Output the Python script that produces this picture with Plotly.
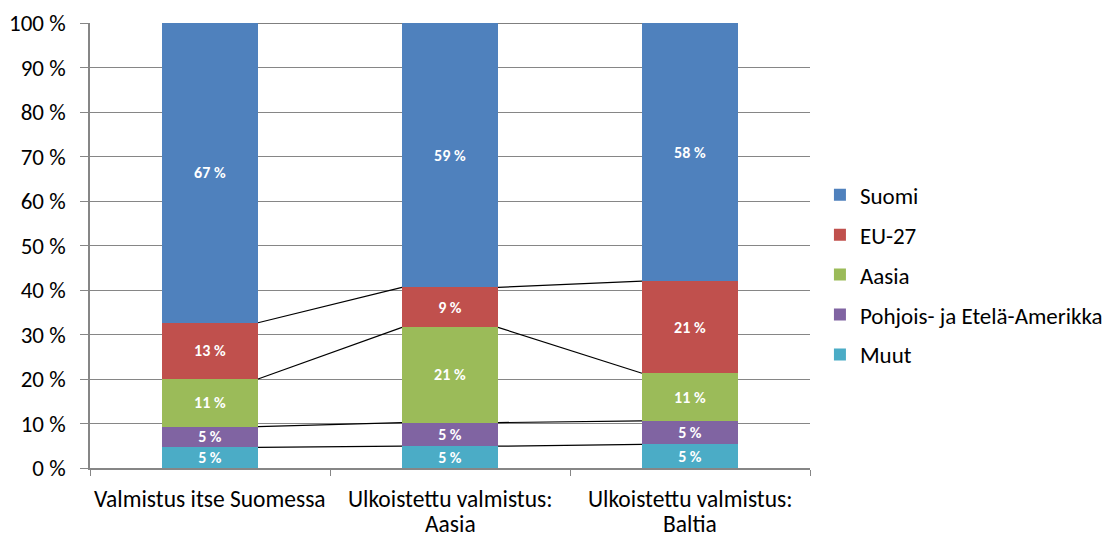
import plotly.graph_objects as go

categories = [["Valmistus itse Suomessa"], ["Ulkoistettu valmistus:", "Aasia"], ["Ulkoistettu valmistus:", "Baltia"]]
series_names = ["Muut", "Pohjois- ja Etelä-Amerikka", "Aasia", "EU-27", "Suomi"]
muut = [4.65, 4.9, 5.3]
pohjois = [4.65, 5.3, 5.3]
aasia = [10.7, 21.4, 10.7]
eu27 = [12.65, 9.0, 20.7]
suomi = [67.35, 59.4, 58.0]
colors = ["#4BACC6", "#8064A2", "#9BBB59", "#C0504D", "#4F81BD"]
y_ticks = [0, 10, 20, 30, 40, 50, 60, 70, 80, 90, 100]

values = [muut, pohjois, aasia, eu27, suomi]
xs = list(range(len(categories)))
bar_w = 0.4
FONT = "Carlito, Calibri, Lato, sans-serif"

fig = go.Figure()
cum = [0.0] * len(categories)
tops = []
for i, (name, vals, col) in enumerate(zip(series_names, values, colors)):
    fig.add_trace(go.Bar(
        x=xs, y=vals, name=name, marker=dict(color=col, line=dict(width=0)),
        width=bar_w,
        text=[f"{round(v)} %" for v in vals], textposition="inside",
        insidetextanchor="middle", textangle=0, constraintext="none",
        textfont=dict(color="white", size=16, family=FONT, weight="bold"),
        legendrank=100 - i, legendgroup=name, hoverinfo="skip",
    ))
    cum = [c + v for c, v in zip(cum, vals)]
    tops.append(list(cum))

# series lines connecting segment tops between bars
for t in tops:
    lx, ly = [], []
    for j in range(len(categories) - 1):
        lx += [xs[j] + bar_w / 2, xs[j + 1] - bar_w / 2, None]
        ly += [t[j], t[j + 1], None]
    fig.add_trace(go.Scatter(x=lx, y=ly, mode="lines", line=dict(color="black", width=1.2),
                             showlegend=False, hoverinfo="skip", cliponaxis=False))

# category labels (one annotation per line for tighter line spacing)
for i, lines in enumerate(categories):
    for k, line in enumerate(lines):
        fig.add_annotation(x=xs[i], xref="x", y=0, yref="paper", text=line,
                           showarrow=False, yanchor="middle", xanchor="center",
                           yshift=-31 - 24.5 * k, font=dict(size=23.5, family=FONT, color="black"))

fig.update_layout(
    barmode="stack",
    width=1112, height=536,
    margin=dict(l=82, r=307, t=15, b=76),
    paper_bgcolor="white", plot_bgcolor="white",
    font=dict(family=FONT, size=23, color="black"),
    legend=dict(x=1.0138, y=0.434, xanchor="left", yanchor="middle",
                font=dict(size=23), tracegroupgap=7, traceorder="grouped",
                itemwidth=30),
    showlegend=True,
)
fig.update_xaxes(
    range=[-0.5, 2.5], tickmode="array", tickvals=xs, showticklabels=False,
    ticks="", showgrid=False, showline=True, linecolor="#868686", linewidth=1.5,
    zeroline=False, automargin=False,
    minor=dict(tickmode="array", tickvals=[-0.5, 0.5, 1.5, 2.5], ticks="outside",
               ticklen=6, tickcolor="#868686", showgrid=False),
)
fig.update_yaxes(
    range=[0, 100], tickmode="array", tickvals=y_ticks,
    ticktext=[f"{v} %" for v in y_ticks],
    ticks="outside", ticklen=8, tickcolor="#868686",
    showgrid=True, gridcolor="#868686", gridwidth=1,
    showline=True, linecolor="#868686", linewidth=1.5, zeroline=False,
    ticklabelstandoff=10, automargin=False,
)
fig.write_html("out.html")
